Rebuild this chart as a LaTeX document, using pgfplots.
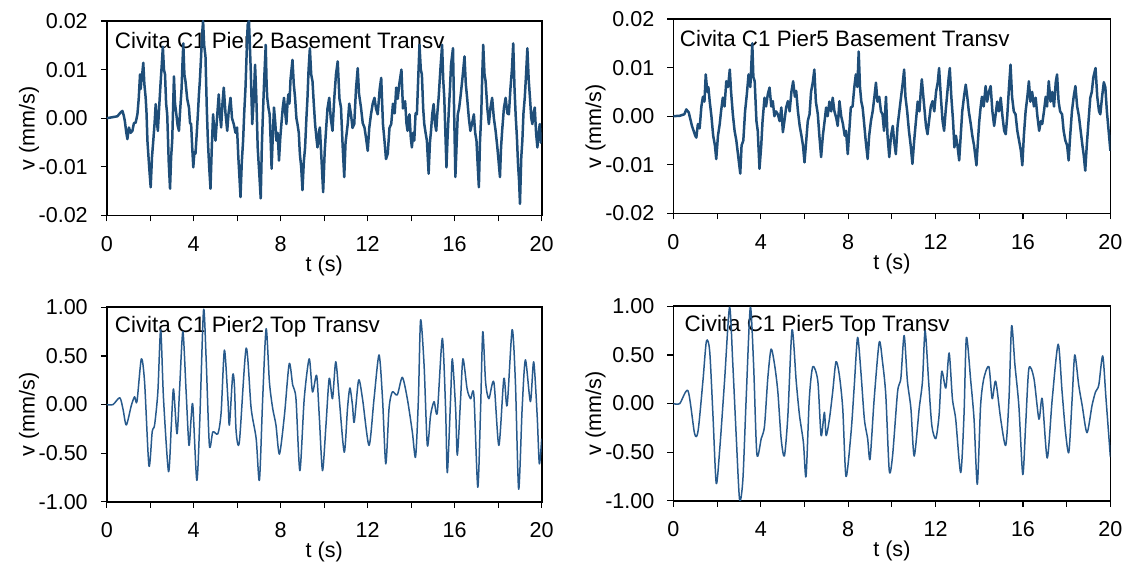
\documentclass[border=0pt]{standalone}
\usepackage{fontspec}
\setmainfont{Liberation Sans}
\usepackage{pgfplots}
\pgfplotsset{compat=1.18}
\definecolor{sertop}{HTML}{1F4E79}
\definecolor{serbot}{HTML}{285A8C}
\pgfplotsset{
 panel/.style={
  width=218pt, height=97.5pt, scale only axis, anchor=south west,
  xmin=0, xmax=20, xtick={0,4,...,20}, minor xtick={2,6,...,18},
  tick align=outside, tick pos=left,
  major tick length=3pt, minor tick length=3pt,
  every tick/.style={black, line width=0.6pt},
  axis line style={line width=0.8pt},
  tick label style={font=\fontsize{10.8}{12}\selectfont},
  xticklabel style={yshift=-4pt},
  yticklabel style={xshift=-3pt},
  /pgf/number format/assume math mode=true,
  scaled y ticks=false,
  yticklabel style={/pgf/number format/.cd, fixed, fixed zerofill, precision=2},
  xlabel={t (s)},
  label style={font=\fontsize{10.8}{12}\selectfont},
  xlabel style={at={(axis description cs:0.5,-0.26)}, anchor=center},
 },
 toppanel/.style={panel, ymin=-0.02, ymax=0.02, ytick={-0.02,-0.01,0,0.01,0.02}},
 botpanel/.style={panel, ymin=-1, ymax=1, ytick={-1,-0.5,0,0.5,1}},
}
\tikzset{ylab/.style={rotate=90, font=\fontsize{10.8}{12}\selectfont, anchor=center}}
\begin{document}
\begin{tikzpicture}
\path (0,0) rectangle (564.5pt,281pt);
% ---------------- top left
\begin{axis}[toppanel, at={(53.5pt,173pt)}, name=tl]
\node[anchor=west, font=\fontsize{11.2}{13}\selectfont, inner sep=0pt] at (rel axis cs:0.018,0.9) {Civita C1 Pier2 Basement Transv};
\addplot[sertop, line width=1.25pt, line join=round] table {
0.00 0.0000
0.25 0.0002
0.49 0.0004
0.64 0.0012
0.72 0.0015
0.78 0.0006
0.83 -0.0005
0.90 -0.0030
0.95 -0.0043
1.02 -0.0019
1.10 -0.0030
1.18 -0.0026
1.25 -0.0010
1.33 -0.0009
1.41 0.0008
1.47 0.0040
1.53 0.0090
1.56 0.0060
1.59 0.0076
1.64 0.0095
1.68 0.0114
1.73 0.0070
1.79 0.0042
1.83 0.0010
1.87 -0.0046
1.95 -0.0100
2.02 -0.0142
2.08 -0.0080
2.14 -0.0046
2.20 -0.0010
2.25 0.0029
2.30 -0.0005
2.35 -0.0026
2.42 0.0030
2.48 0.0076
2.53 0.0110
2.58 0.0147
2.63 0.0100
2.68 0.0090
2.73 0.0030
2.78 0.0008
2.85 -0.0090
2.91 -0.0145
2.96 -0.0080
3.01 -0.0046
3.05 0.0020
3.09 0.0086
3.14 0.0030
3.20 0.0008
3.26 -0.0015
3.32 -0.0026
3.38 0.0020
3.44 0.0060
3.48 0.0110
3.52 0.0154
3.57 0.0090
3.62 0.0076
3.70 0.0040
3.78 0.0022
3.83 -0.0010
3.88 -0.0012
3.93 -0.0060
3.98 -0.0101
4.03 -0.0070
4.08 -0.0073
4.14 -0.0030
4.19 0.0008
4.24 0.0050
4.28 0.0076
4.33 0.0120
4.38 0.0170
4.43 0.0200
4.48 0.0150
4.54 0.0127
4.60 0.0020
4.65 -0.0046
4.71 -0.0100
4.77 -0.0145
4.83 -0.0060
4.89 0.0008
4.95 -0.0030
5.00 -0.0046
5.07 0.0000
5.15 0.0049
5.20 0.0010
5.26 -0.0019
5.32 0.0030
5.38 0.0063
5.46 0.0010
5.54 -0.0026
5.60 0.0010
5.69 0.0042
5.76 0.0000
5.84 -0.0012
5.92 -0.0030
5.99 -0.0019
6.05 -0.0080
6.10 -0.0120
6.15 -0.0162
6.21 -0.0090
6.27 -0.0046
6.32 0.0010
6.38 0.0063
6.43 0.0130
6.48 0.0192
6.54 0.0200
6.62 0.0100
6.69 -0.0012
6.76 0.0040
6.82 0.0110
6.88 0.0040
6.94 -0.0060
7.00 -0.0104
7.08 -0.0165
7.13 -0.0060
7.18 0.0008
7.24 0.0080
7.31 0.0151
7.35 0.0070
7.38 0.0042
7.44 0.0020
7.49 0.0008
7.54 -0.0050
7.58 -0.0104
7.64 -0.0030
7.69 0.0022
7.75 -0.0010
7.80 -0.0046
7.86 -0.0030
7.92 -0.0087
7.98 -0.0040
8.03 -0.0012
8.09 0.0020
8.15 0.0042
8.21 0.0010
8.26 -0.0012
8.31 0.0030
8.35 0.0049
8.40 0.0030
8.45 0.0080
8.54 0.0120
8.60 0.0070
8.66 0.0042
8.72 0.0000
8.77 -0.0012
8.83 -0.0030
8.88 -0.0074
8.94 -0.0100
9.00 -0.0148
9.06 -0.0090
9.12 -0.0060
9.18 0.0000
9.23 0.0042
9.28 0.0100
9.34 0.0144
9.40 0.0090
9.46 0.0076
9.52 0.0030
9.58 -0.0012
9.64 -0.0040
9.69 -0.0060
9.75 -0.0030
9.80 -0.0019
9.88 -0.0090
9.95 -0.0152
10.02 -0.0070
10.08 -0.0026
10.15 0.0020
10.23 0.0042
10.30 0.0000
10.38 -0.0026
10.46 0.0040
10.54 0.0090
10.62 0.0117
10.70 0.0040
10.77 0.0022
10.85 -0.0060
10.92 -0.0121
10.98 -0.0050
11.08 -0.0012
11.15 0.0030
11.23 0.0008
11.30 -0.0020
11.38 -0.0012
11.46 0.0060
11.54 0.0103
11.60 0.0050
11.69 0.0022
11.77 -0.0010
11.85 -0.0019
11.92 -0.0040
12.00 -0.0067
12.07 -0.0020
12.15 0.0008
12.23 0.0030
12.31 0.0042
12.38 0.0020
12.46 0.0008
12.55 0.0060
12.62 0.0083
12.70 -0.0012
12.77 -0.0046
12.84 -0.0084
12.92 -0.0073
13.00 -0.0020
13.08 -0.0012
13.16 0.0030
13.24 0.0010
13.31 0.0063
13.38 0.0040
13.45 0.0070
13.55 0.0100
13.62 0.0020
13.68 0.0030
13.72 0.0035
13.78 -0.0010
13.83 -0.0026
13.88 0.0000
13.92 0.0008
13.98 -0.0040
14.03 -0.0060
14.09 -0.0030
14.14 -0.0046
14.20 0.0010
14.26 0.0008
14.32 0.0080
14.38 0.0151
14.44 0.0100
14.49 0.0090
14.55 0.0020
14.60 -0.0012
14.66 -0.0030
14.72 -0.0046
14.80 -0.0114
14.86 -0.0050
14.91 -0.0026
14.97 0.0010
15.03 0.0029
15.09 -0.0010
15.15 -0.0026
15.20 0.0010
15.26 0.0042
15.34 0.0100
15.42 0.0151
15.47 0.0080
15.52 0.0042
15.57 -0.0030
15.62 -0.0101
15.67 -0.0040
15.72 0.0008
15.78 0.0060
15.83 0.0110
15.92 0.0144
15.97 0.0020
16.03 -0.0121
16.09 -0.0050
16.14 0.0008
16.20 0.0020
16.26 0.0042
16.35 0.0080
16.45 0.0127
16.51 0.0070
16.57 0.0042
16.65 0.0000
16.72 -0.0026
16.80 -0.0010
16.88 0.0008
16.94 -0.0030
17.00 -0.0046
17.06 -0.0100
17.11 -0.0142
17.16 -0.0050
17.22 0.0008
17.26 0.0080
17.31 0.0151
17.37 0.0090
17.42 0.0076
17.50 0.0020
17.57 -0.0012
17.64 0.0020
17.72 0.0042
17.80 0.0000
17.88 -0.0026
17.96 -0.0060
18.02 -0.0090
18.08 -0.0121
18.13 -0.0060
18.18 -0.0026
18.26 0.0020
18.34 0.0042
18.42 0.0010
18.49 0.0008
18.56 0.0060
18.63 0.0100
18.69 0.0154
18.75 0.0060
18.80 0.0008
18.86 -0.0040
18.91 -0.0094
18.96 -0.0130
19.00 -0.0176
19.06 -0.0080
19.11 -0.0046
19.16 0.0010
19.22 0.0042
19.28 0.0090
19.34 0.0144
19.40 0.0080
19.46 0.0042
19.52 0.0000
19.57 -0.0012
19.62 0.0010
19.68 0.0022
19.74 -0.0030
19.80 -0.0060
19.86 -0.0030
19.91 -0.0012
19.96 -0.0050
20.00 -0.0040
};
\end{axis}
% ---------------- top right
\begin{axis}[toppanel, at={(337.5pt,174pt)}, width=219pt, name=tr]
\node[anchor=west, font=\fontsize{11.2}{13}\selectfont, inner sep=0pt] at (rel axis cs:0.014,0.9) {Civita C1 Pier5 Basement Transv};
\addplot[sertop, line width=1.25pt, line join=round] table {
0.00 0.0000
0.30 0.0001
0.50 0.0004
0.59 0.0014
0.70 0.0008
0.85 -0.0020
1.00 -0.0040
1.05 -0.0044
1.12 -0.0016
1.20 -0.0025
1.28 0.0020
1.35 0.0040
1.42 0.0030
1.48 0.0086
1.55 0.0050
1.60 0.0060
1.66 0.0031
1.74 0.0000
1.82 -0.0040
1.90 -0.0060
1.96 -0.0088
2.04 -0.0040
2.12 -0.0016
2.18 0.0010
2.26 0.0038
2.34 0.0020
2.42 0.0072
2.50 0.0060
2.58 0.0096
2.64 0.0050
2.72 0.0004
2.80 -0.0030
2.88 -0.0050
2.96 -0.0080
3.06 -0.0118
3.12 -0.0060
3.20 -0.0050
3.28 0.0010
3.36 0.0045
3.44 0.0086
3.52 0.0060
3.61 0.0150
3.66 0.0080
3.72 0.0072
3.80 -0.0010
3.86 -0.0030
3.94 -0.0108
4.02 -0.0060
4.08 -0.0010
4.17 0.0038
4.24 0.0020
4.32 0.0045
4.40 0.0059
4.48 0.0020
4.55 0.0031
4.62 0.0000
4.70 0.0010
4.78 0.0004
4.86 -0.0010
4.94 0.0018
5.01 -0.0033
5.08 -0.0010
5.16 0.0018
5.24 0.0031
5.32 0.0010
5.40 0.0050
5.48 0.0072
5.56 0.0040
5.62 0.0052
5.70 0.0010
5.78 -0.0020
5.86 -0.0040
5.93 -0.0060
6.00 -0.0095
6.08 -0.0050
6.15 -0.0010
6.23 0.0004
6.30 0.0050
6.38 0.0070
6.45 0.0096
6.52 0.0030
6.61 0.0004
6.68 -0.0040
6.76 -0.0084
6.84 -0.0040
6.92 -0.0010
6.99 0.0018
7.06 0.0000
7.14 0.0030
7.22 0.0010
7.29 0.0038
7.37 0.0010
7.45 -0.0003
7.52 -0.0020
7.60 0.0031
7.68 0.0000
7.76 -0.0016
7.84 -0.0040
7.90 -0.0030
7.98 -0.0078
8.05 -0.0030
8.12 0.0018
8.20 0.0020
8.28 0.0060
8.35 0.0086
8.42 0.0060
8.48 0.0133
8.54 0.0060
8.60 0.0030
8.66 0.0018
8.72 -0.0010
8.80 -0.0050
8.89 -0.0088
8.96 -0.0040
9.04 -0.0010
9.12 0.0010
9.20 0.0040
9.27 0.0069
9.34 0.0030
9.42 0.0040
9.50 0.0010
9.57 0.0004
9.64 -0.0030
9.73 0.0040
9.80 -0.0040
9.88 -0.0084
9.96 -0.0040
10.04 -0.0020
10.10 -0.0050
10.18 -0.0078
10.26 -0.0020
10.34 0.0010
10.42 0.0040
10.50 0.0070
10.56 0.0096
10.62 0.0040
10.70 0.0010
10.78 -0.0030
10.86 -0.0060
10.94 -0.0098
11.02 -0.0050
11.10 -0.0010
11.18 0.0030
11.26 0.0010
11.32 0.0050
11.37 0.0076
11.44 0.0040
11.50 0.0010
11.56 -0.0020
11.63 -0.0037
11.70 -0.0010
11.78 0.0020
11.86 0.0031
11.94 0.0010
12.02 0.0050
12.10 0.0070
12.16 0.0099
12.24 0.0040
12.32 -0.0010
12.39 -0.0030
12.46 0.0010
12.54 0.0050
12.60 0.0080
12.65 0.0099
12.72 0.0040
12.80 -0.0010
12.86 -0.0064
12.93 -0.0040
13.00 -0.0060
13.08 -0.0091
13.15 -0.0040
13.22 0.0010
13.30 0.0040
13.38 0.0065
13.45 0.0040
13.52 0.0010
13.61 -0.0016
13.68 -0.0040
13.76 -0.0060
13.87 -0.0101
13.94 -0.0050
14.00 -0.0010
14.06 0.0018
14.12 0.0040
14.20 0.0020
14.29 0.0062
14.36 0.0030
14.44 0.0050
14.52 0.0062
14.60 0.0010
14.68 -0.0020
14.75 0.0004
14.82 0.0030
14.90 0.0010
14.98 0.0038
15.06 0.0000
15.14 -0.0030
15.21 -0.0037
15.28 0.0000
15.36 0.0060
15.43 0.0106
15.50 0.0040
15.58 0.0010
15.66 0.0004
15.74 -0.0030
15.82 -0.0050
15.90 -0.0070
15.97 -0.0101
16.04 -0.0040
16.12 0.0010
16.20 0.0040
16.27 0.0072
16.34 0.0030
16.42 0.0050
16.50 0.0020
16.58 0.0038
16.66 0.0000
16.74 -0.0030
16.82 -0.0010
16.88 -0.0016
16.96 0.0010
17.04 0.0040
17.10 0.0020
17.18 0.0072
17.26 0.0030
17.34 0.0050
17.42 0.0020
17.50 0.0070
17.56 0.0086
17.63 0.0030
17.70 0.0010
17.79 0.0004
17.86 -0.0030
17.94 -0.0050
18.02 -0.0060
18.09 -0.0091
18.16 -0.0040
18.24 0.0010
18.32 0.0040
18.40 0.0062
18.48 0.0020
18.56 0.0000
18.64 -0.0030
18.72 -0.0060
18.78 -0.0080
18.85 -0.0112
18.92 -0.0060
19.00 -0.0010
19.08 0.0038
19.15 0.0050
19.22 0.0080
19.32 0.0099
19.40 0.0040
19.48 0.0010
19.54 0.0004
19.62 0.0040
19.70 0.0070
19.77 0.0059
19.84 0.0010
19.92 -0.0030
20.00 -0.0071
};
\end{axis}
% ---------------- bottom left
\begin{axis}[botpanel, at={(53.5pt,29.5pt)}, name=bl]
\node[anchor=west, font=\fontsize{11.2}{13}\selectfont, inner sep=0pt] at (rel axis cs:0.018,0.9) {Civita C1 Pier2 Top Transv};
\addplot[serbot, line width=0.75pt, line join=round, smooth, tension=0.45] table {
0.00 0.00
0.29 0.00
0.60 0.07
0.75 -0.05
0.90 -0.21
1.13 -0.01
1.28 0.08
1.39 0.03
1.59 0.47
1.74 0.23
1.94 -0.63
2.09 -0.28
2.20 -0.21
2.35 0.13
2.48 0.77
2.61 0.06
2.84 -0.69
2.97 -0.21
3.07 0.16
3.23 -0.30
3.35 0.16
3.50 0.75
3.65 0.13
3.78 -0.42
3.88 -0.14
3.96 -0.01
4.14 -0.78
4.27 -0.21
4.45 0.97
4.57 0.47
4.72 -0.42
4.88 -0.28
5.11 -0.30
5.26 -0.08
5.41 0.56
5.57 0.06
5.64 -0.21
5.79 0.30
5.87 0.20
5.95 -0.28
6.10 -0.38
6.41 0.58
6.64 -0.04
6.87 -0.35
7.02 -0.78
7.17 0.06
7.33 0.78
7.48 0.23
7.63 -0.04
7.78 -0.21
7.94 -0.51
8.17 -0.11
8.39 0.42
8.55 0.20
8.70 0.06
8.88 -0.68
9.08 0.06
9.31 0.47
9.46 0.13
9.65 0.30
9.77 -0.11
9.92 -0.68
10.08 -0.21
10.23 0.27
10.38 0.06
10.53 0.44
10.69 0.06
10.92 -0.49
11.07 -0.04
11.18 0.17
11.30 -0.01
11.38 -0.18
11.58 0.25
11.76 0.06
12.06 -0.42
12.29 0.06
12.52 0.51
12.68 0.06
12.83 -0.61
12.98 -0.04
13.13 0.13
13.36 0.10
13.59 0.28
13.82 0.06
14.05 -0.28
14.20 -0.54
14.33 0.06
14.43 0.87
14.59 0.41
14.74 -0.42
14.89 -0.11
15.05 0.03
15.20 -0.08
15.43 0.68
15.58 -0.04
15.66 -0.70
15.81 0.06
15.89 0.47
16.04 -0.04
16.12 -0.52
16.27 0.06
16.38 0.47
16.57 0.16
16.73 0.06
16.88 0.10
17.06 -0.85
17.19 -0.04
17.29 0.75
17.42 0.23
17.57 0.06
17.80 0.23
18.03 -0.42
18.26 0.27
18.41 -0.01
18.64 0.77
18.79 0.23
18.94 -0.87
19.10 -0.04
19.25 0.46
19.48 0.03
19.63 0.44
19.79 -0.11
19.89 -0.61
20.00 -0.35
};
\end{axis}
% ---------------- bottom right
\begin{axis}[botpanel, at={(337.5pt,30pt)}, width=219pt, name=br]
\node[anchor=west, font=\fontsize{11.2}{13}\selectfont, inner sep=0pt] at (rel axis cs:0.025,0.9) {Civita C1 Pier5 Top Transv};
\addplot[serbot, line width=0.75pt, line join=round, smooth, tension=0.45] table {
0.00 0.00
0.29 0.00
0.67 0.13
0.97 -0.31
1.13 -0.28
1.35 0.23
1.51 0.64
1.66 0.54
1.81 -0.12
1.96 -0.82
2.12 -0.47
2.34 0.23
2.57 0.99
2.72 0.40
2.88 -0.36
3.03 -0.99
3.18 -0.78
3.33 0.05
3.52 0.99
3.67 0.40
3.82 -0.52
4.02 -0.36
4.17 -0.23
4.32 0.26
4.47 0.56
4.63 0.40
4.78 0.12
4.93 -0.36
5.08 -0.54
5.24 -0.12
5.43 0.76
5.62 0.23
5.77 -0.12
5.95 -0.40
6.07 -0.75
6.22 0.05
6.38 0.38
6.61 0.23
6.76 -0.33
6.91 -0.09
6.99 -0.33
7.14 -0.16
7.29 0.12
7.44 0.43
7.59 0.30
7.75 -0.05
7.90 -0.75
8.13 -0.30
8.28 0.19
8.43 0.68
8.58 0.33
8.74 -0.16
8.89 -0.36
9.00 -0.57
9.19 0.05
9.42 0.63
9.57 0.43
9.72 0.09
9.88 -0.69
10.03 -0.54
10.26 0.12
10.41 0.26
10.56 0.70
10.71 0.23
10.87 -0.05
11.02 -0.54
11.25 -0.05
11.40 0.23
11.52 0.75
11.68 0.23
11.83 -0.23
12.01 -0.36
12.16 -0.12
12.28 0.33
12.47 0.16
12.62 0.52
12.77 0.05
12.92 -0.16
13.15 -0.71
13.30 -0.12
13.41 0.68
13.61 0.23
13.76 -0.16
13.91 -0.83
14.06 -0.02
14.21 0.26
14.44 0.38
14.59 0.05
14.75 0.23
14.98 -0.16
15.21 -0.43
15.36 0.05
15.48 0.80
15.63 0.40
15.81 -0.02
15.99 -0.73
16.12 -0.23
16.27 0.36
16.50 0.26
16.73 -0.16
16.88 0.05
17.11 -0.56
17.34 0.05
17.61 0.61
17.79 0.12
17.95 -0.30
18.10 -0.50
18.25 0.05
18.37 0.50
18.55 0.19
18.71 -0.02
18.93 -0.30
19.16 -0.02
19.32 0.12
19.47 0.19
19.65 0.49
19.80 0.05
20.00 -0.55
};
\end{axis}
\node[ylab] at ([xshift=-39pt, yshift=-5pt]tl.west) {v (mm/s)};
\node[ylab] at ([xshift=-39pt, yshift=-5pt]tr.west) {v (mm/s)};
\node[ylab] at ([xshift=-39pt, yshift=-5pt]bl.west) {v (mm/s)};
\node[ylab] at ([xshift=-39pt, yshift=-5pt]br.west) {v (mm/s)};
\end{tikzpicture}
\end{document}
